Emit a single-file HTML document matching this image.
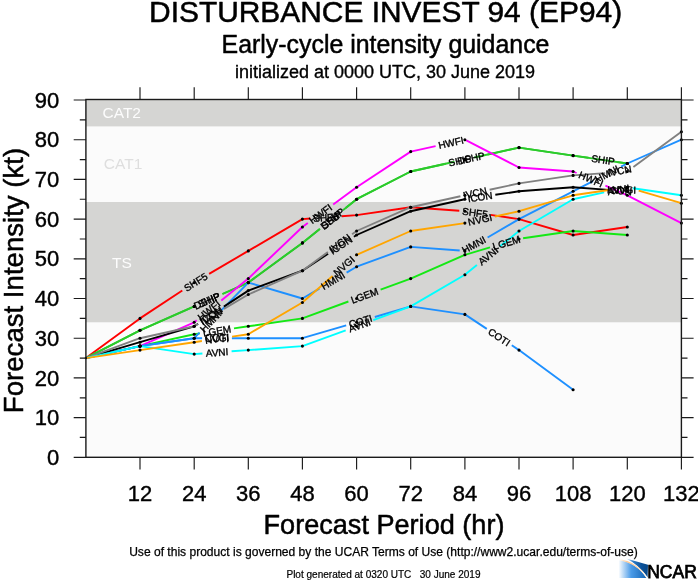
<!DOCTYPE html>
<html><head><meta charset="utf-8"><title>Early-cycle intensity guidance</title>
<style>html,body{margin:0;padding:0;background:#fff}svg{display:block}</style></head>
<body>
<svg width="698" height="580" viewBox="0 0 698 580" font-family="'Liberation Sans', Arial, Helvetica, sans-serif">
<rect width="698" height="580" fill="#fff"/>
<rect x="85.9" y="322.3" width="595.5" height="135.0" fill="#fbfbfb"/>
<rect x="85.9" y="202.0" width="595.5" height="120.3" fill="#d5d5d3"/>
<rect x="85.9" y="126.4" width="595.5" height="75.6" fill="#fbfbfb"/>
<rect x="85.9" y="99.5" width="595.5" height="26.9" fill="#d5d5d3"/>
<g font-size="15.5" fill="#fcfcfc">
<text x="102.5" y="118.2">CAT2</text>
<text x="112" y="267.9">TS</text>
</g>
<text x="103.8" y="169" font-size="15.5" fill="#dedede">CAT1</text>
<g fill="none" stroke-width="1.9" stroke-linejoin="round" stroke-linecap="butt">
<path d="M85.9,358.1 L140.0,318.4 L182.3,290.5 M209.1,273.9 L248.3,250.9 L302.4,219.1 L310.3,218.5 M341.7,216.2 L356.6,215.1 L410.7,207.2 L459.3,210.8 M490.6,214.9 L519.0,219.1 L573.1,235.0 L627.3,227.0" stroke="#ff0000"/>
<path d="M85.9,358.1 L140.0,330.3 L191.5,307.6 M222.5,294.0 L248.3,282.6 L302.4,242.9 L319.4,229.3 M345.6,208.1 L356.6,199.2 L410.7,171.5 L454.5,161.8 M487.5,154.6 L519.0,147.6 L573.1,155.6 L627.3,163.5" stroke="#2bcb2b"/>
<path d="M85.9,358.1 L140.0,330.3 L194.2,306.4 L195.6,305.8 M222.4,294.0 L248.3,282.6 L302.4,242.9 L320.1,228.7 M342.9,210.3 L356.6,199.2 L410.7,171.5 L445.7,163.8 M474.3,157.5 L519.0,147.6 L573.1,155.6 L588.5,157.8 M617.5,162.1 L627.3,163.5" stroke="#2bcb2b"/>
<path d="M85.9,358.1 L140.0,346.1 L194.2,334.2 L200.0,333.4 M234.0,328.4 L248.3,326.3 L302.4,318.4 L348.4,301.5 M380.6,289.7 L410.7,278.6 L464.9,254.8 L490.0,247.4 M523.1,238.3 L573.1,231.0 L627.3,235.0" stroke="#14e814"/>
<path d="M85.9,358.1 L140.0,346.1 L194.2,322.3 L196.7,320.3 M221.3,300.5 L248.3,278.6 L302.4,227.0 L307.8,223.1 M333.2,204.5 L356.6,187.3 L410.7,151.6 L435.6,146.1 M466.3,140.4 L519.0,167.5 L573.1,171.5 L576.6,173.0 M605.4,185.7 L627.3,195.3 L681.4,223.1" stroke="#ff00ff"/>
<path d="M85.9,358.1 L140.0,346.1 L194.2,338.2 L202.1,338.2 M231.9,338.2 L248.3,338.2 L302.4,338.2 L346.2,325.4 M374.8,317.0 L410.7,306.4 L464.9,314.4 L486.8,328.9 M511.8,345.3 L519.0,350.1 L573.1,389.8" stroke="#1e90ff"/>
<path d="M85.9,358.1 L140.0,346.1 L194.2,338.2 L199.5,332.7 M221.5,310.1 L248.3,282.6 L302.4,298.5 L319.4,288.6 M346.6,272.6 L356.6,266.7 L410.7,246.9 L459.7,250.5 M487.6,237.5 L519.0,219.1 L573.1,191.3 L593.0,181.1 M621.0,166.7 L627.3,163.5 L681.4,139.7" stroke="#1e90ff"/>
<path d="M85.9,358.1 L140.0,342.2 L194.2,326.3 L198.1,323.7 M223.9,306.6 L248.3,290.6 L302.4,270.7 L328.1,253.8 M353.9,236.7 L356.6,235.0 L410.7,211.2 L464.7,199.3 M495.3,194.8 L519.0,191.3 L573.1,187.3 L608.5,189.9" stroke="#000000"/>
<path d="M85.9,358.1 L140.0,338.2 L194.2,326.3 L198.1,324.0 M223.9,308.9 L248.3,294.5 L302.4,270.7 L327.9,252.0 M352.1,234.3 L356.6,231.0 L410.7,207.2 L460.4,196.3 M489.6,189.8 L519.0,183.4 L573.1,175.4 L605.1,173.1 M633.4,166.9 L681.4,131.8" stroke="#808080"/>
<path d="M85.9,358.1 L140.0,346.1 L194.2,354.1 L202.4,353.5 M231.6,351.3 L248.3,350.1 L302.4,346.1 L345.7,330.3 M373.3,320.2 L410.7,306.4 L464.9,274.7 L476.9,265.0 M499.7,246.6 L519.0,231.0 L573.1,199.2 L604.2,192.4 M632.9,188.2 L681.4,195.3" stroke="#00ffff"/>
<path d="M85.9,358.1 L140.0,350.1 L194.2,342.2 L201.9,341.0 M232.1,336.6 L248.3,334.2 L302.4,302.5 L332.6,276.0 M355.4,255.8 L356.6,254.8 L410.7,231.0 L464.9,223.1 L465.1,223.0 M494.9,216.5 L519.0,211.2 L573.1,195.3 L608.9,190.0 M638.7,190.7 L681.4,203.2" stroke="#ffa500"/>
</g>
<g fill="#000"><circle cx="140.0" cy="318.4" r="1.55"/><circle cx="194.2" cy="282.6" r="1.55"/><circle cx="248.3" cy="250.9" r="1.55"/><circle cx="302.4" cy="219.1" r="1.55"/><circle cx="356.6" cy="215.1" r="1.55"/><circle cx="410.7" cy="207.2" r="1.55"/><circle cx="464.9" cy="211.2" r="1.55"/><circle cx="519.0" cy="219.1" r="1.55"/><circle cx="573.1" cy="235.0" r="1.55"/><circle cx="627.3" cy="227.0" r="1.55"/><circle cx="140.0" cy="330.3" r="1.55"/><circle cx="194.2" cy="306.4" r="1.55"/><circle cx="248.3" cy="282.6" r="1.55"/><circle cx="302.4" cy="242.9" r="1.55"/><circle cx="356.6" cy="199.2" r="1.55"/><circle cx="410.7" cy="171.5" r="1.55"/><circle cx="464.9" cy="159.6" r="1.55"/><circle cx="519.0" cy="147.6" r="1.55"/><circle cx="573.1" cy="155.6" r="1.55"/><circle cx="627.3" cy="163.5" r="1.55"/><circle cx="140.0" cy="330.3" r="1.55"/><circle cx="194.2" cy="306.4" r="1.55"/><circle cx="248.3" cy="282.6" r="1.55"/><circle cx="302.4" cy="242.9" r="1.55"/><circle cx="356.6" cy="199.2" r="1.55"/><circle cx="410.7" cy="171.5" r="1.55"/><circle cx="464.9" cy="159.6" r="1.55"/><circle cx="519.0" cy="147.6" r="1.55"/><circle cx="573.1" cy="155.6" r="1.55"/><circle cx="627.3" cy="163.5" r="1.55"/><circle cx="140.0" cy="346.1" r="1.55"/><circle cx="194.2" cy="334.2" r="1.55"/><circle cx="248.3" cy="326.3" r="1.55"/><circle cx="302.4" cy="318.4" r="1.55"/><circle cx="356.6" cy="298.5" r="1.55"/><circle cx="410.7" cy="278.6" r="1.55"/><circle cx="464.9" cy="254.8" r="1.55"/><circle cx="519.0" cy="239.0" r="1.55"/><circle cx="573.1" cy="231.0" r="1.55"/><circle cx="627.3" cy="235.0" r="1.55"/><circle cx="140.0" cy="346.1" r="1.55"/><circle cx="194.2" cy="322.3" r="1.55"/><circle cx="248.3" cy="278.6" r="1.55"/><circle cx="302.4" cy="227.0" r="1.55"/><circle cx="356.6" cy="187.3" r="1.55"/><circle cx="410.7" cy="151.6" r="1.55"/><circle cx="464.9" cy="139.7" r="1.55"/><circle cx="519.0" cy="167.5" r="1.55"/><circle cx="573.1" cy="171.5" r="1.55"/><circle cx="627.3" cy="195.3" r="1.55"/><circle cx="681.4" cy="223.1" r="1.55"/><circle cx="140.0" cy="346.1" r="1.55"/><circle cx="194.2" cy="338.2" r="1.55"/><circle cx="248.3" cy="338.2" r="1.55"/><circle cx="302.4" cy="338.2" r="1.55"/><circle cx="356.6" cy="322.3" r="1.55"/><circle cx="410.7" cy="306.4" r="1.55"/><circle cx="464.9" cy="314.4" r="1.55"/><circle cx="519.0" cy="350.1" r="1.55"/><circle cx="573.1" cy="389.8" r="1.55"/><circle cx="140.0" cy="346.1" r="1.55"/><circle cx="194.2" cy="338.2" r="1.55"/><circle cx="248.3" cy="282.6" r="1.55"/><circle cx="302.4" cy="298.5" r="1.55"/><circle cx="356.6" cy="266.7" r="1.55"/><circle cx="410.7" cy="246.9" r="1.55"/><circle cx="464.9" cy="250.9" r="1.55"/><circle cx="519.0" cy="219.1" r="1.55"/><circle cx="573.1" cy="191.3" r="1.55"/><circle cx="627.3" cy="163.5" r="1.55"/><circle cx="681.4" cy="139.7" r="1.55"/><circle cx="140.0" cy="342.2" r="1.55"/><circle cx="194.2" cy="326.3" r="1.55"/><circle cx="248.3" cy="290.6" r="1.55"/><circle cx="302.4" cy="270.7" r="1.55"/><circle cx="356.6" cy="235.0" r="1.55"/><circle cx="410.7" cy="211.2" r="1.55"/><circle cx="464.9" cy="199.2" r="1.55"/><circle cx="519.0" cy="191.3" r="1.55"/><circle cx="573.1" cy="187.3" r="1.55"/><circle cx="627.3" cy="191.3" r="1.55"/><circle cx="140.0" cy="338.2" r="1.55"/><circle cx="194.2" cy="326.3" r="1.55"/><circle cx="248.3" cy="294.5" r="1.55"/><circle cx="302.4" cy="270.7" r="1.55"/><circle cx="356.6" cy="231.0" r="1.55"/><circle cx="410.7" cy="207.2" r="1.55"/><circle cx="464.9" cy="195.3" r="1.55"/><circle cx="519.0" cy="183.4" r="1.55"/><circle cx="573.1" cy="175.4" r="1.55"/><circle cx="627.3" cy="171.5" r="1.55"/><circle cx="681.4" cy="131.8" r="1.55"/><circle cx="140.0" cy="346.1" r="1.55"/><circle cx="194.2" cy="354.1" r="1.55"/><circle cx="248.3" cy="350.1" r="1.55"/><circle cx="302.4" cy="346.1" r="1.55"/><circle cx="356.6" cy="326.3" r="1.55"/><circle cx="410.7" cy="306.4" r="1.55"/><circle cx="464.9" cy="274.7" r="1.55"/><circle cx="519.0" cy="231.0" r="1.55"/><circle cx="573.1" cy="199.2" r="1.55"/><circle cx="627.3" cy="187.3" r="1.55"/><circle cx="681.4" cy="195.3" r="1.55"/><circle cx="140.0" cy="350.1" r="1.55"/><circle cx="194.2" cy="342.2" r="1.55"/><circle cx="248.3" cy="334.2" r="1.55"/><circle cx="302.4" cy="302.5" r="1.55"/><circle cx="356.6" cy="254.8" r="1.55"/><circle cx="410.7" cy="231.0" r="1.55"/><circle cx="464.9" cy="223.1" r="1.55"/><circle cx="519.0" cy="211.2" r="1.55"/><circle cx="573.1" cy="195.3" r="1.55"/><circle cx="627.3" cy="187.3" r="1.55"/><circle cx="681.4" cy="203.2" r="1.55"/><circle cx="85.9" cy="358.1" r="1.2"/></g>
<g font-size="10.0" fill="#000" text-anchor="middle" stroke="#000" stroke-width="0.35">
<text x="195.7" y="285.7" transform="rotate(-31.7 195.7 282.1)">SHF5</text>
<text x="326.0" y="221.0" transform="rotate(-4.2 326.0 217.4)">SHF5</text>
<text x="475.0" y="216.3" transform="rotate(7.9 475.0 212.7)">SHF5</text>
<text x="207.0" y="304.4" transform="rotate(-23.7 207.0 300.8)">DSHP</text>
<text x="332.5" y="222.3" transform="rotate(-38.9 332.5 218.7)">DSHP</text>
<text x="471.0" y="161.8" transform="rotate(-12.4 471.0 158.2)">DSHP</text>
<text x="209.0" y="303.5" transform="rotate(-23.7 209.0 299.9)">SHIP</text>
<text x="331.5" y="223.1" transform="rotate(-38.9 331.5 219.5)">SHIP</text>
<text x="460.0" y="164.2" transform="rotate(-12.4 460.0 160.6)">SHIP</text>
<text x="603.0" y="163.5" transform="rotate(8.3 603.0 160.0)">SHIP</text>
<text x="217.0" y="334.5" transform="rotate(-8.3 217.0 330.9)">LGEM</text>
<text x="364.5" y="299.2" transform="rotate(-20.1 364.5 295.6)">LGEM</text>
<text x="506.5" y="246.3" transform="rotate(-16.0 506.5 242.7)">LGEM</text>
<text x="209.0" y="313.9" transform="rotate(-38.9 209.0 310.4)">HWFI</text>
<text x="320.5" y="217.4" transform="rotate(-36.3 320.5 213.8)">HWFI</text>
<text x="451.0" y="146.3" transform="rotate(-12.4 451.0 142.7)">HWFI</text>
<text x="591.0" y="182.9" transform="rotate(23.7 591.0 179.3)">HWFI</text>
<text x="217.0" y="341.8" transform="rotate(0.0 217.0 338.2)">COTI</text>
<text x="360.5" y="324.8" transform="rotate(-16.3 360.5 321.2)">COTI</text>
<text x="499.3" y="340.7" transform="rotate(33.4 499.3 337.1)">COTI</text>
<text x="210.5" y="325.0" transform="rotate(-45.8 210.5 321.4)">HMNI</text>
<text x="333.0" y="284.2" transform="rotate(-30.4 333.0 280.6)">HMNI</text>
<text x="473.9" y="248.4" transform="rotate(-27.6 473.9 244.9)">HMNI</text>
<text x="607.0" y="177.5" transform="rotate(-27.2 607.0 173.9)">HMNI</text>
<text x="211.0" y="318.8" transform="rotate(-33.4 211.0 315.2)">ICON</text>
<text x="341.0" y="248.8" transform="rotate(-33.4 341.0 245.3)">ICON</text>
<text x="480.0" y="200.6" transform="rotate(-8.3 480.0 197.0)">ICON</text>
<text x="619.4" y="194.3" transform="rotate(4.2 619.4 190.7)">ICON</text>
<text x="211.0" y="320.0" transform="rotate(-30.4 211.0 316.4)">IVCN</text>
<text x="340.0" y="246.8" transform="rotate(-36.3 340.0 243.2)">IVCN</text>
<text x="475.0" y="196.6" transform="rotate(-12.4 475.0 193.0)">IVCN</text>
<text x="619.6" y="174.4" transform="rotate(-10.3 619.6 170.8)">IVCN</text>
<text x="217.0" y="356.0" transform="rotate(-4.2 217.0 352.4)">AVNI</text>
<text x="359.5" y="328.8" transform="rotate(-20.1 359.5 325.2)">AVNI</text>
<text x="488.3" y="259.3" transform="rotate(-38.9 488.3 255.8)">AVNI</text>
<text x="618.5" y="193.3" transform="rotate(-10.0 618.5 189.8)">AVNI</text>
<text x="217.0" y="342.4" transform="rotate(-8.3 217.0 338.8)">NVGI</text>
<text x="344.0" y="269.5" transform="rotate(-41.3 344.0 265.9)">NVGI</text>
<text x="480.0" y="223.3" transform="rotate(-12.4 480.0 219.7)">NVGI</text>
<text x="623.9" y="193.3" transform="rotate(0.6 623.9 189.7)">NVGI</text>
</g>
<g stroke="#1a1a1a" stroke-width="1.15" fill="none" stroke-linecap="square">
<rect x="85.9" y="99.5" width="595.5" height="357.8" stroke-width="1.4"/>
<path d="M140.0,457.3v12.2 M140.0,99.5v-12.2 M194.2,457.3v12.2 M194.2,99.5v-12.2 M248.3,457.3v12.2 M248.3,99.5v-12.2 M302.4,457.3v12.2 M302.4,99.5v-12.2 M356.6,457.3v12.2 M356.6,99.5v-12.2 M410.7,457.3v12.2 M410.7,99.5v-12.2 M464.9,457.3v12.2 M464.9,99.5v-12.2 M519.0,457.3v12.2 M519.0,99.5v-12.2 M573.1,457.3v12.2 M573.1,99.5v-12.2 M627.3,457.3v12.2 M627.3,99.5v-12.2 M681.4,457.3v12.2 M681.4,99.5v-12.2 M85.9,457.3h-12.2 M681.4,457.3h12.2 M85.9,437.4h-6.1 M681.4,437.4h6.1 M85.9,417.6h-12.2 M681.4,417.6h12.2 M85.9,397.8h-6.1 M681.4,397.8h6.1 M85.9,377.9h-12.2 M681.4,377.9h12.2 M85.9,358.1h-6.1 M681.4,358.1h6.1 M85.9,338.2h-12.2 M681.4,338.2h12.2 M85.9,318.4h-6.1 M681.4,318.4h6.1 M85.9,298.5h-12.2 M681.4,298.5h12.2 M85.9,278.6h-6.1 M681.4,278.6h6.1 M85.9,258.8h-12.2 M681.4,258.8h12.2 M85.9,239.0h-6.1 M681.4,239.0h6.1 M85.9,219.1h-12.2 M681.4,219.1h12.2 M85.9,199.2h-6.1 M681.4,199.2h6.1 M85.9,179.4h-12.2 M681.4,179.4h12.2 M85.9,159.6h-6.1 M681.4,159.6h6.1 M85.9,139.7h-12.2 M681.4,139.7h12.2 M85.9,119.9h-6.1 M681.4,119.9h6.1 M85.9,100.0h-12.2 M681.4,100.0h12.2" stroke-linecap="butt"/>
</g>
<g font-size="22" fill="#000" stroke="#000" stroke-width="0.4">
<g text-anchor="end">
<text x="59.3" y="464.9">0</text>
<text x="59.3" y="425.2">10</text>
<text x="59.3" y="385.5">20</text>
<text x="59.3" y="345.8">30</text>
<text x="59.3" y="306.1">40</text>
<text x="59.3" y="266.4">50</text>
<text x="59.3" y="226.7">60</text>
<text x="59.3" y="187.0">70</text>
<text x="59.3" y="147.3">80</text>
<text x="59.3" y="107.6">90</text>
</g><g text-anchor="middle">
<text x="140.0" y="500.8">12</text>
<text x="194.2" y="500.8">24</text>
<text x="248.3" y="500.8">36</text>
<text x="302.4" y="500.8">48</text>
<text x="356.6" y="500.8">60</text>
<text x="410.7" y="500.8">72</text>
<text x="464.9" y="500.8">84</text>
<text x="519.0" y="500.8">96</text>
<text x="573.1" y="500.8">108</text>
<text x="627.3" y="500.8">120</text>
<text x="681.4" y="500.8">132</text>
</g></g>
<g fill="#000" text-anchor="middle" stroke="#000" stroke-width="0.5" stroke-linejoin="round">
<text x="385.6" y="22.2" font-size="29.92">DISTURBANCE INVEST 94 (EP94)</text>
<text x="385.5" y="53.3" font-size="24.9">Early-cycle intensity guidance</text>
<text x="385" y="78.2" font-size="18" stroke-width="0.35">initialized at 0000 UTC, 30 June 2019</text>
<text x="384" y="533.9" font-size="27.1">Forecast Period (hr)</text>
<text x="383.5" y="556.1" font-size="12.06" stroke-width="0.25">Use of this product is governed by the UCAR Terms of Use (http://www2.ucar.edu/terms-of-use)</text>
<text x="383.5" y="577.6" font-size="10.04" stroke-width="0.2" xml:space="preserve">Plot generated at 0320 UTC   30 June 2019</text>
<text transform="translate(22.8 280.5) rotate(-90)" font-size="27.6">Forecast Intensity (kt)</text>
</g>
<defs><linearGradient id="lg1" x1="0" x2="1" y1="0" y2="0"><stop offset="0" stop-color="#fff"/><stop offset="0.45" stop-color="#4a9be8"/><stop offset="1" stop-color="#1565b4"/></linearGradient>
<linearGradient id="lg2" x1="0" x2="1" y1="0" y2="0"><stop offset="0" stop-color="#fff"/><stop offset="0.3" stop-color="#2f7fca"/><stop offset="0.7" stop-color="#0b529a"/><stop offset="1" stop-color="#084887"/></linearGradient>
<linearGradient id="lg3" x1="0" x2="1" y1="0" y2="0"><stop offset="0" stop-color="#fff"/><stop offset="0.3" stop-color="#ffc890"/><stop offset="0.7" stop-color="#ffd9b0"/><stop offset="1" stop-color="#fff"/></linearGradient></defs>
<path d="M618.5,559.8 Q637.2,563.1 646.6,578 L618.5,578 Z" fill="url(#lg1)"/>
<path d="M626,558.4 L648,564.8 L647.6,577.5 Q639,564.5 626,558.4 Z" fill="url(#lg2)"/>
<path d="M619,559.6 Q637.4,562.8 646.9,577.6" fill="none" stroke="url(#lg3)" stroke-width="1.3"/>
<text x="647.2" y="577.7" font-size="18.2" textLength="49.6" lengthAdjust="spacingAndGlyphs" fill="#000" stroke="#000" stroke-width="0.75">NCAR</text>
</svg>
</body></html>
